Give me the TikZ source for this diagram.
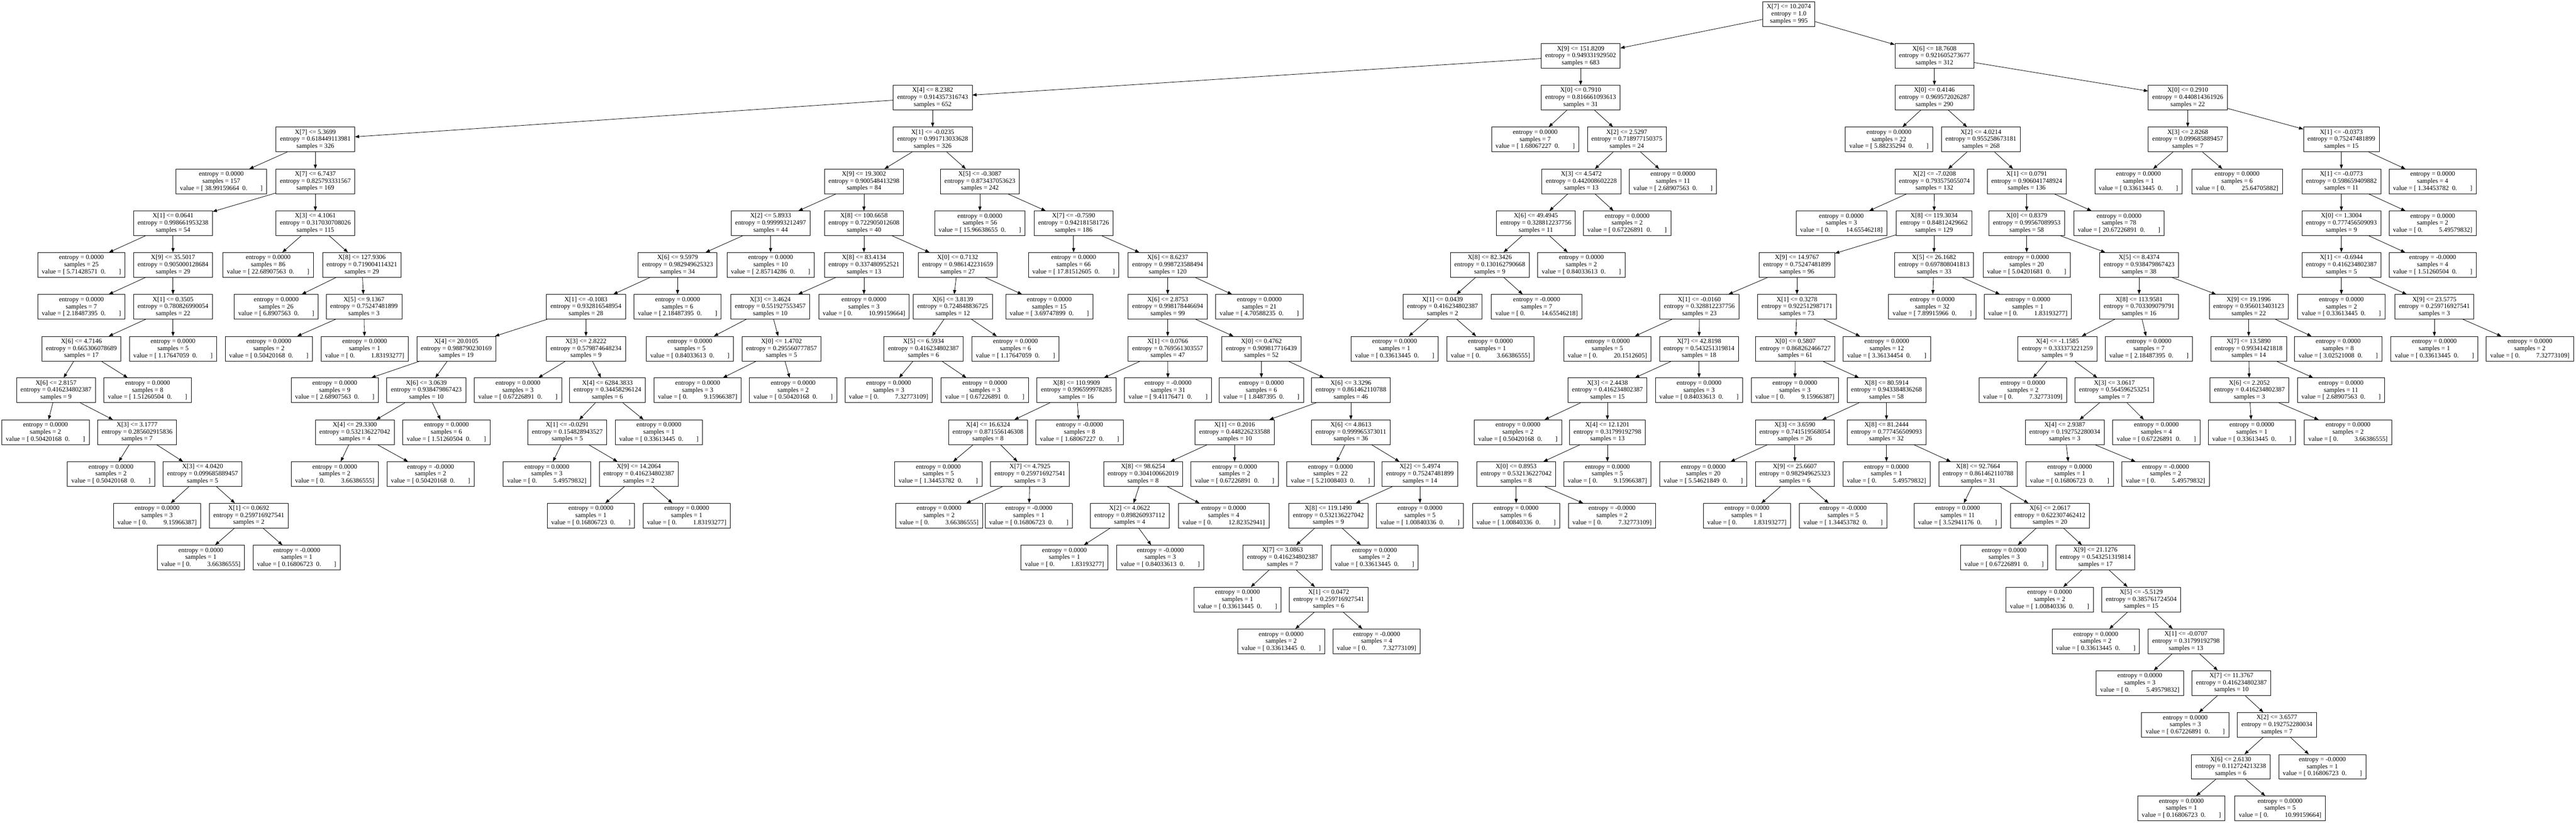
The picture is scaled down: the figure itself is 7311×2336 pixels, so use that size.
\documentclass[tikz,border=0pt]{standalone}
\usepackage{fontspec}
\setmainfont{Liberation Serif}
\usetikzlibrary{arrows.meta}

\newcommand{\splt}[3]{#1\\entropy = #2\\samples = #3}
\newcommand{\lfz}[3]{entropy = #1\\samples = #2\\value = [ #3\hspace{0.5em}0.\hspace{2em}]}
\newcommand{\lfo}[3]{entropy = #1\\samples = #2\\value = [ 0.\hspace{2.5em}#3]}

\begin{document}
\begin{tikzpicture}[x=1pt, y=-1pt, every path/.style={line width=1.2pt},
    dec/.style={draw, rectangle, align=center, inner xsep=11.5pt, inner ysep=0pt, minimum height=70pt, font=\fontsize{18.5}{20}\selectfont},
    leaf/.style={dec},
    edge/.style={-{Triangle[length=12pt, width=9pt]}}]

    \path[use as bounding box, fill=white] (0,0) rectangle (7311,2336);

    \node[dec] (0) at (5077,40) {\splt{X[7] <= 10.2074}{1.0}{995}};

    \node[dec] (1) at (4486,159) {\splt{X[9] <= 151.8209}{0.949331929502}{683}};
    \node[dec] (2) at (5490,159) {\splt{X[6] <= 18.7608}{0.921605273677}{312}};

    \node[dec] (3) at (2647,277) {\splt{X[4] <= 8.2382}{0.914357316743}{652}};
    \node[dec] (4) at (4486,277) {\splt{X[0] <= 0.7910}{0.816661093613}{31}};
    \node[dec] (5) at (5490,277) {\splt{X[0] <= 0.4146}{0.969572026287}{290}};
    \node[dec] (6) at (6209,277) {\splt{X[0] <= 0.2910}{0.440814361926}{22}};

    \node[dec] (7) at (895,396) {\splt{X[7] <= 5.3699}{0.618449113981}{326}};
    \node[dec] (8) at (2647,396) {\splt{X[1] <= -0.0235}{0.991713033628}{326}};
    \node[leaf] (9) at (4357,396) {\lfz{0.0000}{7}{1.68067227}};
    \node[dec] (10) at (4617,396) {\splt{X[2] <= 2.5297}{0.718977150375}{24}};
    \node[leaf] (11) at (5361,396) {\lfz{0.0000}{22}{5.88235294}};
    \node[dec] (12) at (5622,396) {\splt{X[2] <= 4.0214}{0.955258673181}{268}};
    \node[dec] (13) at (6209,396) {\splt{X[3] <= 2.8268}{0.099685889457}{7}};
    \node[dec] (14) at (6645,396) {\splt{X[1] <= -0.0373}{0.75247481899}{15}};

    \node[leaf] (15) at (628,515) {\lfz{0.0000}{157}{38.99159664}};
    \node[dec] (16) at (895,515) {\splt{X[7] <= 6.7437}{0.825793331567}{169}};
    \node[dec] (17) at (2452,515) {\splt{X[9] <= 19.3002}{0.900548413298}{84}};
    \node[dec] (18) at (2781,515) {\splt{X[5] <= -0.3087}{0.873437053623}{242}};
    \node[dec] (19) at (4488,515) {\splt{X[3] <= 4.5472}{0.442008602228}{13}};
    \node[leaf] (20) at (4748,515) {\lfz{0.0000}{11}{2.68907563}};
    \node[dec] (21) at (5490,515) {\splt{X[2] <= -7.0208}{0.793575055074}{132}};
    \node[dec] (22) at (5752,515) {\splt{X[1] <= 0.0791}{0.906041748924}{136}};
    \node[leaf] (23) at (6069,515) {\lfz{0.0000}{1}{0.33613445}};
    \node[leaf] (24) at (6349,515) {\lfo{0.0000}{6}{25.64705882}};
    \node[dec] (25) at (6645,515) {\splt{X[1] <= -0.0773}{0.598659409882}{11}};
    \node[leaf] (26) at (6904,515) {\lfz{0.0000}{4}{1.34453782}};

    \node[dec] (27) at (491,634) {\splt{X[1] <= 0.0641}{0.998661953238}{54}};
    \node[dec] (28) at (895,634) {\splt{X[3] <= 4.1061}{0.317030708026}{115}};
    \node[dec] (29) at (2187,634) {\splt{X[2] <= 5.8933}{0.999993212497}{44}};
    \node[dec] (30) at (2452,634) {\splt{X[8] <= 100.6658}{0.722905012608}{40}};
    \node[leaf] (31) at (2781,634) {\lfz{0.0000}{56}{15.96638655}};
    \node[dec] (32) at (3047,634) {\splt{X[7] <= -0.7590}{0.942181581726}{186}};
    \node[dec] (33) at (4359,634) {\splt{X[6] <= 49.4945}{0.328812237756}{11}};
    \node[leaf] (34) at (4618,634) {\lfz{0.0000}{2}{0.67226891}};
    \node[leaf] (35) at (5226,634) {\lfo{0.0000}{3}{14.65546218}};
    \node[dec] (36) at (5489,634) {\splt{X[8] <= 119.3034}{0.84812429662}{129}};
    \node[dec] (37) at (5752,634) {\splt{X[0] <= 0.8379}{0.99567089953}{58}};
    \node[leaf] (38) at (6014,634) {\lfz{0.0000}{78}{20.67226891}};
    \node[dec] (39) at (6645,634) {\splt{X[0] <= 1.3004}{0.777456509093}{9}};
    \node[leaf] (40) at (6904,634) {\lfo{0.0000}{2}{5.49579832}};

    \node[leaf] (41) at (231,752) {\lfz{0.0000}{25}{5.71428571}};
    \node[dec] (42) at (491,752) {\splt{X[9] <= 35.5017}{0.905000128684}{29}};
    \node[leaf] (43) at (761,752) {\lfz{0.0000}{86}{22.68907563}};
    \node[dec] (44) at (1027,752) {\splt{X[8] <= 127.9306}{0.719004114321}{29}};
    \node[dec] (45) at (1923,752) {\splt{X[6] <= 9.5979}{0.982949625323}{34}};
    \node[leaf] (46) at (2187,752) {\lfz{0.0000}{10}{2.85714286}};
    \node[dec] (47) at (2452,752) {\splt{X[8] <= 83.4134}{0.337480952521}{13}};
    \node[dec] (48) at (2718,752) {\splt{X[0] <= 0.7132}{0.986142231659}{27}};
    \node[leaf] (49) at (3047,752) {\lfz{0.0000}{66}{17.81512605}};
    \node[dec] (50) at (3314,752) {\splt{X[6] <= 8.6237}{0.998723588494}{120}};
    \node[dec] (51) at (4228,752) {\splt{X[8] <= 82.3426}{0.130162790668}{9}};
    \node[leaf] (52) at (4488,752) {\lfz{0.0000}{2}{0.84033613}};
    \node[dec] (53) at (5100,752) {\splt{X[9] <= 14.9767}{0.75247481899}{96}};
    \node[dec] (54) at (5489,752) {\splt{X[5] <= 26.1682}{0.697808041813}{33}};
    \node[leaf] (55) at (5752,752) {\lfz{0.0000}{20}{5.04201681}};
    \node[dec] (56) at (6071,752) {\splt{X[5] <= 8.4374}{0.938479867423}{38}};
    \node[dec] (57) at (6645,752) {\splt{X[1] <= -0.6944}{0.416234802387}{5}};
    \node[leaf] (58) at (6904,752) {\lfz{-0.0000}{4}{1.51260504}};

    \node[leaf] (59) at (231,871) {\lfz{0.0000}{7}{2.18487395}};
    \node[dec] (60) at (491,871) {\splt{X[1] <= 0.3505}{0.780826990054}{22}};
    \node[leaf] (61) at (784,871) {\lfz{0.0000}{26}{6.8907563}};
    \node[dec] (62) at (1033,871) {\splt{X[5] <= 9.1367}{0.75247481899}{3}};
    \node[dec] (63) at (1663,871) {\splt{X[1] <= -0.1083}{0.932816548954}{28}};
    \node[leaf] (64) at (1923,871) {\lfz{0.0000}{6}{2.18487395}};
    \node[dec] (65) at (2186,871) {\splt{X[3] <= 3.4624}{0.551927553457}{10}};
    \node[leaf] (66) at (2452,871) {\lfo{0.0000}{3}{10.99159664}};
    \node[dec] (67) at (2704,871) {\splt{X[6] <= 3.8139}{0.724848836725}{12}};
    \node[leaf] (68) at (2978,871) {\lfz{0.0000}{15}{3.69747899}};
    \node[dec] (69) at (3314,871) {\splt{X[6] <= 2.8753}{0.998178446694}{99}};
    \node[leaf] (70) at (3574,871) {\lfz{0.0000}{21}{4.70588235}};
    \node[dec] (71) at (4094,871) {\splt{X[1] <= 0.0439}{0.416234802387}{2}};
    \node[leaf] (72) at (4361,871) {\lfo{-0.0000}{7}{14.65546218}};
    \node[dec] (73) at (4823,871) {\splt{X[1] <= -0.0160}{0.328812237756}{23}};
    \node[dec] (74) at (5100,871) {\splt{X[1] <= 0.3278}{0.922512987171}{73}};
    \node[leaf] (75) at (5484,871) {\lfz{0.0000}{32}{7.89915966}};
    \node[leaf] (76) at (5755,871) {\lfo{0.0000}{1}{1.83193277}};
    \node[dec] (77) at (6071,871) {\splt{X[8] <= 113.9581}{0.703309079791}{16}};
    \node[dec] (78) at (6382,871) {\splt{X[9] <= 19.1996}{0.956013403123}{22}};
    \node[leaf] (79) at (6645,871) {\lfz{0.0000}{2}{0.33613445}};
    \node[dec] (80) at (6909,871) {\splt{X[9] <= 23.5775}{0.259716927541}{3}};

    \node[dec] (81) at (231,990) {\splt{X[6] <= 4.7146}{0.665306078689}{17}};
    \node[leaf] (82) at (491,990) {\lfz{0.0000}{5}{1.17647059}};
    \node[leaf] (83) at (763,990) {\lfz{0.0000}{2}{0.50420168}};
    \node[leaf] (84) at (1035,990) {\lfo{0.0000}{1}{1.83193277}};
    \node[dec] (85) at (1295,990) {\splt{X[4] <= 20.0105}{0.988790230169}{19}};
    \node[dec] (86) at (1663,990) {\splt{X[3] <= 2.8222}{0.579874648234}{9}};
    \node[leaf] (87) at (1958,990) {\lfz{0.0000}{5}{0.84033613}};
    \node[dec] (88) at (2218,990) {\splt{X[0] <= 1.4702}{0.295560777857}{5}};
    \node[dec] (89) at (2621,990) {\splt{X[5] <= 6.5934}{0.416234802387}{6}};
    \node[leaf] (90) at (2882,990) {\lfz{0.0000}{6}{1.17647059}};
    \node[dec] (91) at (3314,990) {\splt{X[1] <= 0.0766}{0.769561303557}{47}};
    \node[dec] (92) at (3580,990) {\splt{X[0] <= 0.4762}{0.909817716439}{52}};
    \node[leaf] (93) at (3958,990) {\lfz{0.0000}{1}{0.33613445}};
    \node[leaf] (94) at (4230,990) {\lfo{0.0000}{1}{3.66386555}};
    \node[leaf] (95) at (4562,990) {\lfo{0.0000}{5}{20.1512605}};
    \node[dec] (96) at (4822,990) {\splt{X[7] <= 42.8198}{0.543251319814}{18}};
    \node[dec] (97) at (5095,990) {\splt{X[0] <= 0.5807}{0.868262466727}{61}};
    \node[leaf] (98) at (5355,990) {\lfz{0.0000}{12}{3.36134454}};
    \node[dec] (99) at (5839,990) {\splt{X[4] <= -1.1585}{0.333373221259}{9}};
    \node[leaf] (100) at (6099,990) {\lfz{0.0000}{7}{2.18487395}};
    \node[dec] (101) at (6382,990) {\splt{X[7] <= 13.5890}{0.99341421818}{14}};
    \node[leaf] (102) at (6636,990) {\lfz{0.0000}{8}{3.02521008}};
    \node[leaf] (103) at (6909,990) {\lfz{0.0000}{1}{0.33613445}};
    \node[leaf] (104) at (7180,990) {\lfo{0.0000}{2}{7.32773109}};

    \node[dec] (105) at (159,1108) {\splt{X[6] <= 2.8157}{0.416234802387}{9}};
    \node[leaf] (106) at (419,1108) {\lfz{0.0000}{8}{1.51260504}};
    \node[leaf] (107) at (950,1108) {\lfz{0.0000}{9}{2.68907563}};
    \node[dec] (108) at (1210,1108) {\splt{X[6] <= 3.0639}{0.938479867423}{10}};
    \node[leaf] (109) at (1470,1108) {\lfz{0.0000}{3}{0.67226891}};
    \node[dec] (110) at (1724,1108) {\splt{X[4] <= 6284.3833}{0.34458296124}{6}};
    \node[leaf] (111) at (1980,1108) {\lfo{0.0000}{3}{9.15966387}};
    \node[leaf] (112) at (2251,1108) {\lfz{0.0000}{2}{0.50420168}};
    \node[leaf] (113) at (2522,1108) {\lfo{0.0000}{3}{7.32773109}};
    \node[leaf] (114) at (2795,1108) {\lfz{0.0000}{3}{0.67226891}};
    \node[dec] (115) at (3055,1108) {\splt{X[8] <= 110.9909}{0.996599978285}{16}};
    \node[leaf] (116) at (3315,1108) {\lfz{-0.0000}{31}{9.41176471}};
    \node[leaf] (117) at (3580,1108) {\lfz{0.0000}{6}{1.8487395}};
    \node[dec] (118) at (3834,1108) {\splt{X[6] <= 3.3296}{0.861462110788}{46}};
    \node[dec] (119) at (4562,1108) {\splt{X[3] <= 2.4438}{0.416234802387}{15}};
    \node[leaf] (120) at (4822,1108) {\lfz{0.0000}{3}{0.84033613}};
    \node[leaf] (121) at (5094,1108) {\lfo{0.0000}{3}{9.15966387}};
    \node[dec] (122) at (5354,1108) {\splt{X[8] <= 80.5914}{0.943384836268}{58}};
    \node[leaf] (123) at (5741,1108) {\lfo{0.0000}{2}{7.32773109}};
    \node[dec] (124) at (6001,1108) {\splt{X[3] <= 3.0617}{0.564596253251}{7}};
    \node[dec] (125) at (6384,1108) {\splt{X[6] <= 2.2052}{0.416234802387}{3}};
    \node[leaf] (126) at (6644,1108) {\lfz{0.0000}{11}{2.68907563}};

    \node[leaf] (127) at (129,1227) {\lfz{0.0000}{2}{0.50420168}};
    \node[dec] (128) at (389,1227) {\splt{X[3] <= 3.1777}{0.285602915836}{7}};
    \node[dec] (129) at (1007,1227) {\splt{X[4] <= 29.3300}{0.532136227042}{4}};
    \node[leaf] (130) at (1267,1227) {\lfz{0.0000}{6}{1.51260504}};
    \node[dec] (131) at (1610,1227) {\splt{X[1] <= -0.0291}{0.154828943527}{5}};
    \node[leaf] (132) at (1870,1227) {\lfz{0.0000}{1}{0.33613445}};
    \node[dec] (133) at (2804,1227) {\splt{X[4] <= 16.6324}{0.871556146308}{8}};
    \node[leaf] (134) at (3064,1227) {\lfz{-0.0000}{8}{1.68067227}};
    \node[dec] (135) at (3504,1227) {\splt{X[1] <= 0.2016}{0.448226233588}{10}};
    \node[dec] (136) at (3834,1227) {\splt{X[6] <= 4.8613}{0.999965373011}{36}};
    \node[leaf] (137) at (4308,1227) {\lfz{0.0000}{2}{0.50420168}};
    \node[dec] (138) at (4562,1227) {\splt{X[4] <= 12.1201}{0.31799192798}{13}};
    \node[dec] (139) at (5094,1227) {\splt{X[3] <= 3.6590}{0.741519568054}{26}};
    \node[dec] (140) at (5354,1227) {\splt{X[8] <= 81.2444}{0.777456509093}{32}};
    \node[dec] (141) at (5860,1227) {\splt{X[4] <= 2.9387}{0.192752280034}{3}};
    \node[leaf] (142) at (6120,1227) {\lfz{0.0000}{4}{0.67226891}};
    \node[leaf] (143) at (6391,1227) {\lfz{0.0000}{1}{0.33613445}};
    \node[leaf] (144) at (6664,1227) {\lfo{0.0000}{2}{3.66386555}};

    \node[leaf] (145) at (315,1346) {\lfz{0.0000}{2}{0.50420168}};
    \node[dec] (146) at (575,1346) {\splt{X[3] <= 4.0420}{0.099685889457}{5}};
    \node[leaf] (147) at (950,1346) {\lfo{0.0000}{2}{3.66386555}};
    \node[leaf] (148) at (1222,1346) {\lfz{-0.0000}{2}{0.50420168}};
    \node[leaf] (149) at (1552,1346) {\lfo{0.0000}{3}{5.49579832}};
    \node[dec] (150) at (1813,1346) {\splt{X[9] <= 14.2064}{0.416234802387}{2}};
    \node[leaf] (151) at (2663,1346) {\lfz{0.0000}{5}{1.34453782}};
    \node[dec] (152) at (2923,1346) {\splt{X[7] <= 4.7925}{0.259716927541}{3}};
    \node[dec] (153) at (3244,1346) {\splt{X[8] <= 98.6254}{0.304100662019}{8}};
    \node[leaf] (154) at (3504,1346) {\lfz{0.0000}{2}{0.67226891}};
    \node[leaf] (155) at (3776,1346) {\lfz{0.0000}{22}{5.21008403}};
    \node[dec] (156) at (4030,1346) {\splt{X[2] <= 5.4974}{0.75247481899}{14}};
    \node[dec] (157) at (4303,1346) {\splt{X[0] <= 0.8953}{0.532136227042}{8}};
    \node[leaf] (158) at (4562,1346) {\lfo{0.0000}{5}{9.15966387}};
    \node[leaf] (159) at (4834,1346) {\lfz{0.0000}{20}{5.54621849}};
    \node[dec] (160) at (5094,1346) {\splt{X[9] <= 25.6607}{0.982949625323}{6}};
    \node[leaf] (161) at (5354,1346) {\lfo{0.0000}{1}{5.49579832}};
    \node[dec] (162) at (5614,1346) {\splt{X[8] <= 92.7664}{0.861462110788}{31}};
    \node[leaf] (163) at (5874,1346) {\lfz{0.0000}{1}{0.16806723}};
    \node[leaf] (164) at (6146,1346) {\lfo{-0.0000}{2}{5.49579832}};

    \node[leaf] (165) at (446,1464) {\lfo{0.0000}{3}{9.15966387}};
    \node[dec] (166) at (706,1464) {\splt{X[1] <= 0.0692}{0.259716927541}{2}};
    \node[leaf] (167) at (1677,1464) {\lfz{0.0000}{1}{0.16806723}};
    \node[leaf] (168) at (1949,1464) {\lfo{0.0000}{1}{1.83193277}};
    \node[leaf] (169) at (2665,1464) {\lfo{0.0000}{2}{3.66386555}};
    \node[leaf] (170) at (2920,1464) {\lfz{-0.0000}{1}{0.16806723}};
    \node[dec] (171) at (3206,1464) {\splt{X[2] <= 4.0622}{0.898260937112}{4}};
    \node[leaf] (172) at (3473,1464) {\lfo{0.0000}{4}{12.82352941}};
    \node[dec] (173) at (3770,1464) {\splt{X[8] <= 119.1490}{0.532136227042}{9}};
    \node[leaf] (174) at (4030,1464) {\lfz{0.0000}{5}{1.00840336}};
    \node[leaf] (175) at (4303,1464) {\lfz{0.0000}{6}{1.00840336}};
    \node[leaf] (176) at (4575,1464) {\lfo{-0.0000}{2}{7.32773109}};
    \node[leaf] (177) at (4958,1464) {\lfo{0.0000}{1}{1.83193277}};
    \node[leaf] (178) at (5231,1464) {\lfz{-0.0000}{5}{1.34453782}};
    \node[leaf] (179) at (5556,1464) {\lfz{0.0000}{11}{3.52941176}};
    \node[dec] (180) at (5818,1464) {\splt{X[6] <= 2.0617}{0.622307462412}{20}};

    \node[leaf] (181) at (570,1583) {\lfo{0.0000}{1}{3.66386555}};
    \node[leaf] (182) at (842,1583) {\lfz{-0.0000}{1}{0.16806723}};
    \node[leaf] (183) at (3021,1583) {\lfo{0.0000}{1}{1.83193277}};
    \node[leaf] (184) at (3293,1583) {\lfz{-0.0000}{3}{0.84033613}};
    \node[dec] (185) at (3640,1583) {\splt{X[7] <= 3.0863}{0.416234802387}{7}};
    \node[leaf] (186) at (3901,1583) {\lfz{0.0000}{2}{0.33613445}};
    \node[leaf] (187) at (5688,1583) {\lfz{0.0000}{3}{0.67226891}};
    \node[dec] (188) at (5947,1583) {\splt{X[9] <= 21.1276}{0.543251319814}{17}};

    \node[leaf] (189) at (3512,1702) {\lfz{0.0000}{1}{0.33613445}};
    \node[dec] (190) at (3771,1702) {\splt{X[1] <= 0.0472}{0.259716927541}{6}};
    \node[leaf] (191) at (5817,1702) {\lfz{0.0000}{2}{1.00840336}};
    \node[dec] (192) at (6077,1702) {\splt{X[5] <= -5.5129}{0.385761724504}{15}};

    \node[leaf] (193) at (3636,1821) {\lfz{0.0000}{2}{0.33613445}};
    \node[leaf] (194) at (3907,1821) {\lfo{-0.0000}{4}{7.32773109}};
    \node[leaf] (195) at (5948,1821) {\lfz{0.0000}{2}{0.33613445}};
    \node[dec] (196) at (6204,1821) {\splt{X[1] <= -0.0707}{0.31799192798}{13}};

    \node[leaf] (197) at (6073,1939) {\lfo{0.0000}{3}{5.49579832}};
    \node[dec] (198) at (6333,1939) {\splt{X[7] <= 11.3767}{0.416234802387}{10}};

    \node[leaf] (199) at (6202,2058) {\lfz{0.0000}{3}{0.67226891}};
    \node[dec] (200) at (6462,2058) {\splt{X[2] <= 3.6577}{0.192752280034}{7}};

    \node[dec] (201) at (6331,2177) {\splt{X[6] <= 2.6130}{0.112724213238}{6}};
    \node[leaf] (202) at (6591,2177) {\lfz{-0.0000}{1}{0.16806723}};

    \node[leaf] (203) at (6191,2295) {\lfz{0.0000}{1}{0.16806723}};
    \node[leaf] (204) at (6471,2295) {\lfo{0.0000}{5}{10.99159664}};

    \foreach \p/\c in {0/1, 0/2, 1/3, 1/4, 2/5, 2/6,
        3/7, 3/8, 4/9, 4/10, 5/11, 5/12, 6/13, 6/14,
        7/15, 7/16, 8/17, 8/18, 10/19, 10/20, 12/21, 12/22, 13/23, 13/24, 14/25, 14/26,
        16/27, 16/28, 17/29, 17/30, 18/31, 18/32, 19/33, 19/34, 21/35, 21/36, 22/37, 22/38, 25/39, 25/40,
        27/41, 27/42, 28/43, 28/44, 29/45, 29/46, 30/47, 30/48, 32/49, 32/50, 33/51, 33/52, 36/53, 36/54, 37/55, 37/56, 39/57, 39/58,
        42/59, 42/60, 44/61, 44/62, 45/63, 45/64, 47/65, 47/66, 48/67, 48/68, 50/69, 50/70, 51/71, 51/72, 53/73, 53/74, 54/75, 54/76, 56/77, 56/78, 57/79, 57/80,
        60/81, 60/82, 62/83, 62/84, 63/85, 63/86, 65/87, 65/88, 67/89, 67/90, 69/91, 69/92, 71/93, 71/94, 73/95, 73/96, 74/97, 74/98, 77/99, 77/100, 78/101, 78/102, 80/103, 80/104,
        81/105, 81/106, 85/107, 85/108, 86/109, 86/110, 88/111, 88/112, 89/113, 89/114, 91/115, 91/116, 92/117, 92/118, 96/119, 96/120, 97/121, 97/122, 99/123, 99/124, 101/125, 101/126,
        105/127, 105/128, 108/129, 108/130, 110/131, 110/132, 115/133, 115/134, 118/135, 118/136, 119/137, 119/138, 122/139, 122/140, 124/141, 124/142, 125/143, 125/144,
        128/145, 128/146, 129/147, 129/148, 131/149, 131/150, 133/151, 133/152, 135/153, 135/154, 136/155, 136/156, 138/157, 138/158, 139/159, 139/160, 140/161, 140/162, 141/163, 141/164,
        146/165, 146/166, 150/167, 150/168, 152/169, 152/170, 153/171, 153/172, 156/173, 156/174, 157/175, 157/176, 160/177, 160/178, 162/179, 162/180,
        166/181, 166/182, 171/183, 171/184, 173/185, 173/186, 180/187, 180/188,
        185/189, 185/190, 188/191, 188/192,
        190/193, 190/194, 192/195, 192/196,
        196/197, 196/198, 198/199, 198/200, 200/201, 200/202, 201/203, 201/204}
        \draw[edge] (\p) -- (\c);

\end{tikzpicture}
\end{document}
